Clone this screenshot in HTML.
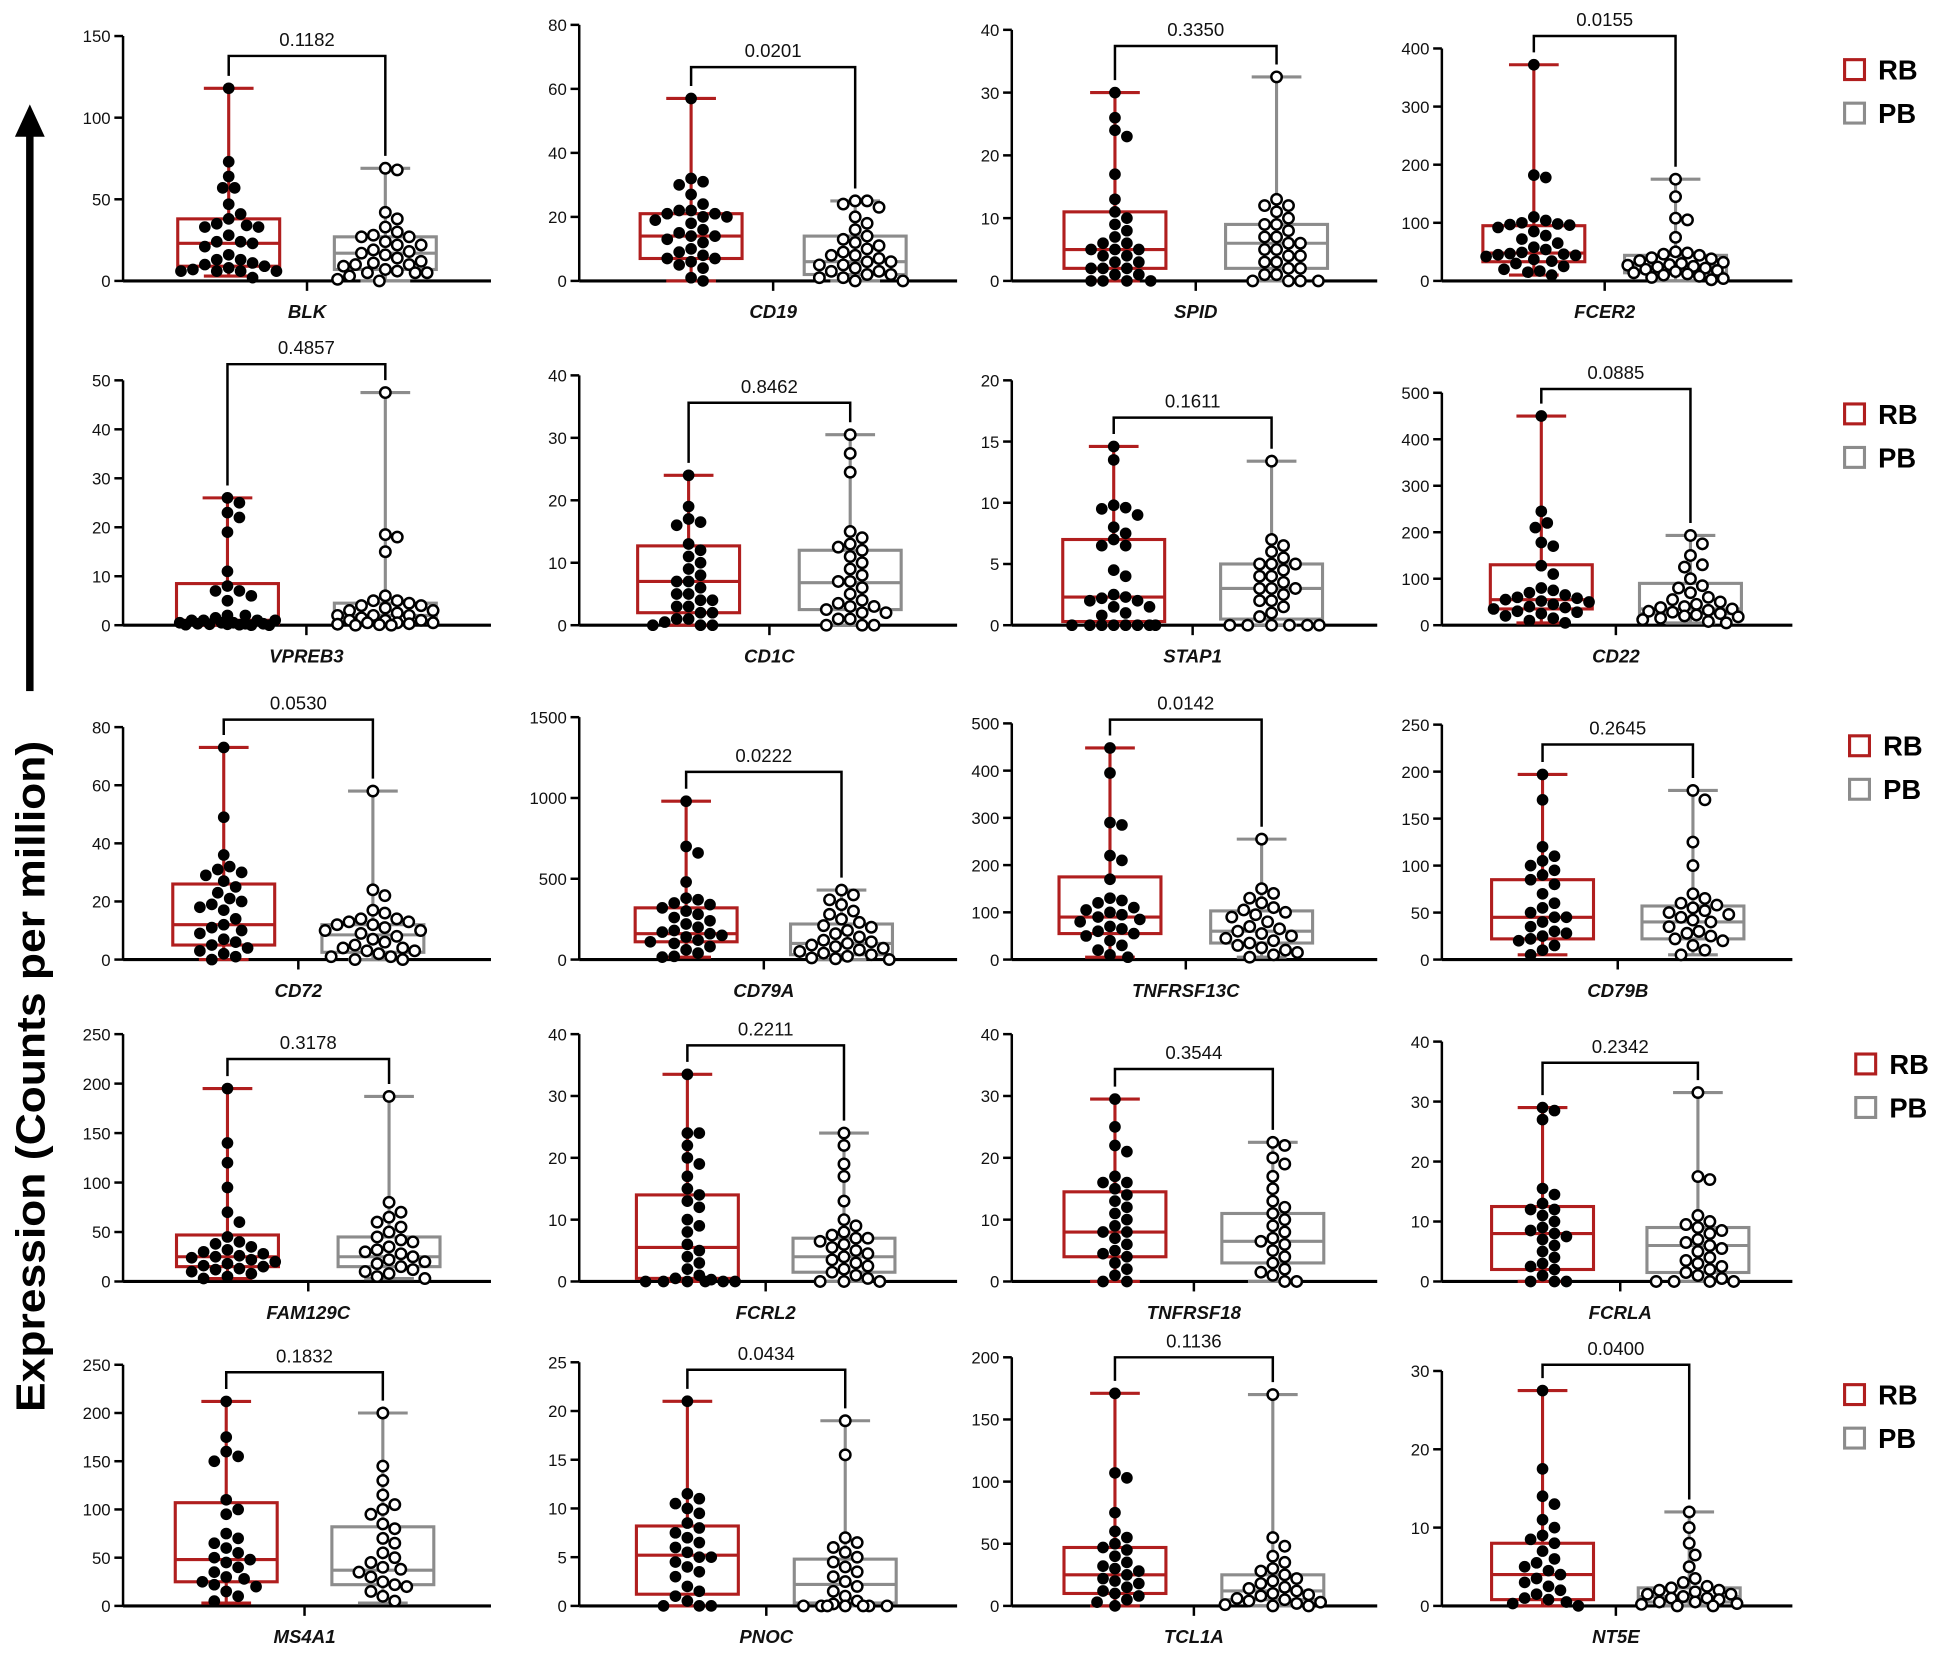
<!DOCTYPE html>
<html><head><meta charset="utf-8"><style>
html,body{margin:0;padding:0;background:#fff;}
svg{display:block;font-family:"Liberation Sans",Arial,sans-serif;}
</style></head><body>
<svg id="fig" width="1949" height="1655" viewBox="0 0 1568 1331.5" preserveAspectRatio="none" xmlns="http://www.w3.org/2000/svg">
<g>
<rect x="21" y="104" width="6" height="452" fill="#000"/>
<polygon points="12,110 36,110 24,84" fill="#000"/>
</g>
<text transform="translate(36,866) rotate(-90)" text-anchor="middle" font-size="33" font-weight="bold" textLength="540" lengthAdjust="spacingAndGlyphs">Expression (Counts per million)</text>
<g id="panels"></g>
<g id="legends"></g>
</svg>
<script>
const genes = ["BLK","CD19","SPID","FCER2","VPREB3","CD1C","STAP1","CD22","CD72","CD79A","TNFRSF13C","CD79B","FAM129C","FCRL2","TNFRSF18","FCRLA","MS4A1","PNOC","TCL1A","NT5E"];
const pValues = ["0.1182","0.0201","0.3350","0.0155","0.4857","0.8462","0.1611","0.0885","0.0530","0.0222","0.0142","0.2645","0.3178","0.2211","0.3544","0.2342","0.1832","0.0434","0.1136","0.0400"];
const axisMax = [150,80,40,400,50,40,20,500,80,1500,500,250,250,40,40,40,250,25,200,30];
const axisStep = [50,20,10,100,10,10,5,100,20,500,100,50,50,10,10,10,50,5,50,10];
// box stats: [min, q1, median, q3, max]
const rbStats = [[3,9,23,38,118],[0,7,14,21,57],[0,2,5,11,30],[10,33,48,95,372],[0,0.3,1,8.5,26],[0,2,7,12.7,24],[0,0.3,2.3,7,14.6],[5,35,55,130,450],[0,5,12,26,73],[15,110,160,320,980],[5,55,90,175,448],[5,22,45,85,197],[3,15,25,47,195],[0,0.5,5.5,14,33.5],[0,4,8,14.5,29.5],[0,2,8,12.5,29],[3,25,48,107,212],[0,1.2,5.2,8.2,21],[0,10,25,47,171],[0,0.8,4,8,27.5]];
const pbStats = [[0,7,17,27,69],[0,2,6,14,25],[0,2,6,9,32.5],[0,14,27,44,175],[0,0.5,2,4.5,47.5],[0,2.5,6.8,12,30.5],[0,0.5,3,5,13.4],[5,25,35,90,193],[0,2.5,8.5,12,58],[0,30,100,220,430],[5,35,60,103,255],[5,22,40,57,180],[3,15,25,45,187],[0,1.5,4,7,24],[0,3,6.5,11,22.5],[0,1.5,6,9,31.5],[3,22,37,82,200],[0,0.3,2.2,4.8,19],[0,5,12,25,170],[0,0.5,1.2,2.3,12]];
const rbPoints = [
[118,73,64,57,57,47,41,38,35,34,33,33,28,24,24,23,21,16,13,13,11,10,9,8,7,6,6,6,6,2],
[57,32,31,30,27,24,22,22,21,21,20,20,19,18,16,15,14,14,13,12,10,9,8,7,7,6,5,4,1,0],
[30,26,24,23,17,13,11,10,9,8,7,6,6,5,5,5,4,4,3,3,2,2,2,1,1,0,0,0,0],
[372,182,178,110,104,100,98,97,96,92,85,78,72,65,58,54,49,47,46,45,44,42,37,34,30,25,20,17,15,10],
[26,25,23,22,19,11,8,7,7,6,5,2,2,1.5,1,1,1,1,0.5,0.5,0.5,0.3,0.3,0.3,0.2,0.2,0.1,0.1,0,0],
[24,19,17,16.5,16,13,12,11,10,9,8,7,7,6,5,5,4,4,3,3,2,2,1,1,0.5,0,0,0],
[14.6,13.5,9.8,9.6,9.5,9,8,7.5,7,6.5,6.5,4.5,4,2.5,2.3,2.2,2,2,1.5,1.5,1,0.8,0,0,0,0,0,0,0,0],
[450,245,220,210,178,170,128,110,80,75,70,65,60,58,55,52,50,45,40,38,35,30,28,25,20,15,10,5],
[73,49,36,32,31,30,29,27,25,23,21,20,19,18,17,14,12,11,10,9,7,6,5,4,3,2,1,0],
[980,700,660,480,380,370,350,340,320,300,280,260,240,220,200,180,170,160,150,140,120,110,100,80,60,40,20,15],
[448,395,290,285,220,210,170,130,125,120,110,105,100,95,90,85,80,70,65,60,55,50,40,30,20,10,5],
[197,170,120,110,105,100,95,90,85,80,70,60,55,50,45,45,40,35,30,28,25,22,20,15,10,5],
[195,140,120,95,70,60,45,40,38,35,32,30,28,26,25,24,22,20,18,16,15,13,12,10,8,5,3],
[33.5,24,24,22,20,19,17,15,14,13,12,10,9,8,6,5,4,3,2,1,0.5,0.3,0,0,0,0,0,0],
[29.5,25,22,21,17,16,16,15,14,13,12,11,10,9,8,8,7,6,5,4.5,4,3,2,1,0,0],
[29,28.5,27,15.5,14.5,13,12,12,11,10,9,8.5,8,7.5,7,6,5,4,3,2.5,2,1,0,0,0],
[212,175,160,155,150,110,100,95,75,70,65,60,55,50,48,45,40,35,30,28,25,22,20,15,10,5],
[21,11.5,11,10.5,10,9.5,8.5,8,7.5,7,6.5,6,5.5,5,5,4.5,4,3.5,3,2,1.5,1,0.5,0,0,0],
[171,107,103,75,60,55,50,47,45,40,35,32,30,28,25,22,20,18,15,12,10,8,5,3,0],
[27.5,17.5,14,13,11,10,9,8.5,8,7,6,5.5,5,4.5,4,3.5,3,2.5,2,1.5,1,0.8,0.5,0.3,0]];
const pbPoints = [
[69,68,42,38,33,30,28,27,27,24,22,22,19,18,17,16,14,12,11,10,10,9,7,6,5,5,5,3,1,0],
[25,25,24,23,20,18,16,14,13,12,11,10,9,8,8,7,6,6,5,5,4,3,3,2,2,1,1,0,0],
[32.5,13,12,12,11,10,9,9,8,7,7,6,6,5,5,4,4,3,3,2,2,1,1,0,0,0,0],
[175,145,108,105,75,50,48,46,44,40,38,35,32,30,28,27,25,24,22,20,18,16,14,12,10,8,6,4,2],
[47.5,18.5,18,15,6,5,5,4.5,4,4,3.5,3,3,2.5,2,2,2,1.5,1,1,1,0.5,0.5,0.5,0.3,0.2,0.1,0,0],
[30.5,27.5,24.5,15,14,13,12.5,12,11,10,9,8,7,7,6,5,4,3.5,3,3,2.5,2,2,1,1,0,0,0],
[13.4,7,6.5,6,5.5,5,5,5,4.5,4,4,3.5,3,3,3,2.5,2,2,1.5,1,0.7,0,0,0,0,0,0],
[193,175,150,130,125,100,85,80,70,60,55,50,45,40,38,35,32,30,28,25,22,20,18,15,12,8,5],
[58,24,22,17,16,14,14,13,13,12,12,11,10,10,9,8,7,6,5,4,4,3,3,2,1,1,0,0],
[430,400,370,340,300,280,250,230,210,200,180,160,140,120,110,100,90,80,70,60,50,40,30,20,10,5,0],
[255,150,140,130,120,110,105,100,95,90,80,70,65,60,55,50,45,40,35,30,25,20,15,10,5],
[180,170,125,100,70,65,60,58,55,52,50,48,45,42,40,35,30,28,25,22,20,15,10,5],
[187,80,70,65,60,55,50,45,42,40,35,32,30,28,25,22,20,18,15,12,10,8,5,3],
[24,22,19,17,13,10,9,8,7.5,7,7,6.5,6,5.5,5,4.5,4,3.5,3,2.5,2,1.5,1,0.5,0,0,0],
[22.5,22,20,19,17,15,13,12,11,10,9,8,7,6.5,6,5,4,3,2,1.5,1,0,0],
[31.5,17.5,17,11,10,9.5,9,8.5,8,7,6.5,6,5.5,5,4,3.5,3,2.5,2,1.5,1,0.5,0,0,0,0],
[200,145,130,115,105,100,95,85,80,70,65,55,50,45,40,38,35,30,25,22,20,15,10,5],
[19,15.5,7,6.5,6,5.5,5,4.5,4,3.5,3,2.5,2,1.5,1,0.5,0.2,0,0,0,0,0,0,0],
[170,55,48,40,35,30,28,25,22,20,18,15,14,12,10,9,8,6,5,4,3,2,1,0,0],
[12,10,8,6.5,5,3.5,3,2.5,2.3,2,2,1.8,1.5,1.5,1.2,1,1,0.8,0.5,0.5,0.3,0.2,0,0]];

// layout (positions, not data)
const L = {
  axisX:[99,466,814,1160], axisW:[296,304,294,282],
  zeroY:[226,503,772,1031,1292],
  topY:[29,20,24,39, 306,302,306,316, 585,577,582,583, 832,832,832,838, 1098,1096,1092,1103],
  g1:[184,556,897,1234, 183,554,896,1240, 180,552,893,1241, 183,553,897,1241, 182,553,897,1241],
  g2:[310,688,1027,1348, 310,684,1023,1360, 300,677,1015,1362, 313,679,1024,1366, 308,680,1024,1359],
  brY:[45,54,37,29, 293,324,336,313, 579,621,579,599, 852,841,860,855, 1104,1102,1092,1098],
  legX:[1484,1484,1488,1493,1484], legY:[56,333,600,856,1122]
};
const RED="#b01e1e", GRAY="#8c8c8c", NS="http://www.w3.org/2000/svg";
function mk(tag, attrs, parent){const e=document.createElementNS(NS,tag);for(const k in attrs)e.setAttribute(k,attrs[k]);parent.appendChild(e);return e;}
const panelsG=document.getElementById('panels');

genes.forEach((gene,i)=>{
  const row=Math.floor(i/4), col=i%4;
  const ax=L.axisX[col], aw=L.axisW[col], y0=L.zeroY[row], yT=L.topY[i];
  const yScale=v=>y0-(v/axisMax[i])*(y0-yT);
  const g=mk('g',{},panelsG);
  
  
  const ya=mk('g',{},g);
  
  
  mk('line',{x1:ax,y1:y0,x2:ax,y2:yT,stroke:'#000','stroke-width':2},ya);
  for(let v=0; v<=axisMax[i]+1e-9; v+=axisStep[i]){
    const y=yScale(v);
    mk('line',{x1:ax-7,y1:y,x2:ax,y2:y,stroke:'#000','stroke-width':2},ya);
    const t=mk('text',{x:ax-10,y:y+5,'text-anchor':'end','font-size':13.5,fill:'#111'},ya);
    t.textContent=v;
    
    
  }
  const mid=(L.g1[i]+L.g2[i])/2;
  const xa=mk('line',{x1:ax,y1:y0,x2:ax+aw,y2:y0,stroke:'#000','stroke-width':2.5},g);
  
  
  mk('line',{x1:mid,y1:y0,x2:mid,y2:y0+8,stroke:'#000','stroke-width':2},g);
  const gl=mk('text',{x:mid,y:y0+30,'text-anchor':'middle','font-size':15,'font-weight':'bold','font-style':'italic',fill:'#111'},g);
  gl.textContent=gene;
  
  
  [[rbStats[i],L.g1[i],RED,rbPoints[i],true],[pbStats[i],L.g2[i],GRAY,pbPoints[i],false]].forEach(([s,cx,color,pts,filled])=>{
    const bg=mk('g',{},g);
    
    
    const hw=41, cw=20;
    mk('line',{x1:cx,y1:yScale(s[0]),x2:cx,y2:yScale(s[1]),stroke:color,'stroke-width':2.5},bg);
    mk('line',{x1:cx,y1:yScale(s[3]),x2:cx,y2:yScale(s[4]),stroke:color,'stroke-width':2.5},bg);
    mk('line',{x1:cx-cw,y1:yScale(s[0]),x2:cx+cw,y2:yScale(s[0]),stroke:color,'stroke-width':2.5},bg);
    mk('line',{x1:cx-cw,y1:yScale(s[4]),x2:cx+cw,y2:yScale(s[4]),stroke:color,'stroke-width':2.5},bg);
    mk('rect',{x:cx-hw,y:yScale(s[3]),width:2*hw,height:Math.max(0,yScale(s[1])-yScale(s[3])),fill:'none',stroke:color,'stroke-width':2.5},bg);
    mk('line',{x1:cx-hw,y1:yScale(s[2]),x2:cx+hw,y2:yScale(s[2]),stroke:color,'stroke-width':2.5},bg);
    // bounded beeswarm
    const placed=[], D=9.6, r=4.4, maxOff=40;
    pts.forEach(v=>{
      const y=yScale(v);
      let best=cx, bestScore=-1;
      for(let k=0;k<40;k++){
        const off=(k===0?0:Math.ceil(k/2)*(D*0.5)*(k%2?1:-1));
        if(Math.abs(off)>maxOff) break;
        const tx=cx+off;
        let md=Infinity;
        placed.forEach(p=>{md=Math.min(md,Math.hypot(p[0]-tx,p[1]-y));});
        if(md>=D){best=tx;bestScore=Infinity;break;}
        if(md>bestScore){bestScore=md;best=tx;}
      }
      placed.push([best,y]);
      const c=mk('circle',{cx:best,cy:y,r:filled?r+0.3:r-0.2,fill:filled?'#000':'#fff',stroke:'#000','stroke-width':filled?0:2},bg);
      
      
    });
  });
  const by=L.brY[i];
  const l1=yScale(rbStats[i][4])-10, l2=yScale(pbStats[i][4])-10;
  const br=mk('path',{d:`M${L.g1[i]},${l1} V${by} H${L.g2[i]} V${l2}`,fill:'none',stroke:'#000','stroke-width':2},g);
  
  
  const pt=mk('text',{x:(L.g1[i]+L.g2[i])/2,y:by-8,'text-anchor':'middle','font-size':15,fill:'#111'},g);
  pt.textContent=pValues[i];
  
  
});

const legG=document.getElementById('legends');
L.legY.forEach((ly,r)=>{
  const lg=mk('g',{},legG);
  
  
  const lx=L.legX[r];
  [['RB',RED,0],['PB',GRAY,35]].forEach(([lab,col,dy])=>{
    const e=mk('g',{},lg);
    
    
    mk('rect',{x:lx,y:ly+dy-8,width:16,height:16,fill:'#fff',stroke:col,'stroke-width':2.5},e);
    const t=mk('text',{x:lx+27,y:ly+dy+8,'font-size':22,'font-weight':'bold',fill:'#000'},e);
    t.textContent=lab;
  });
});
</script>
</body></html>
